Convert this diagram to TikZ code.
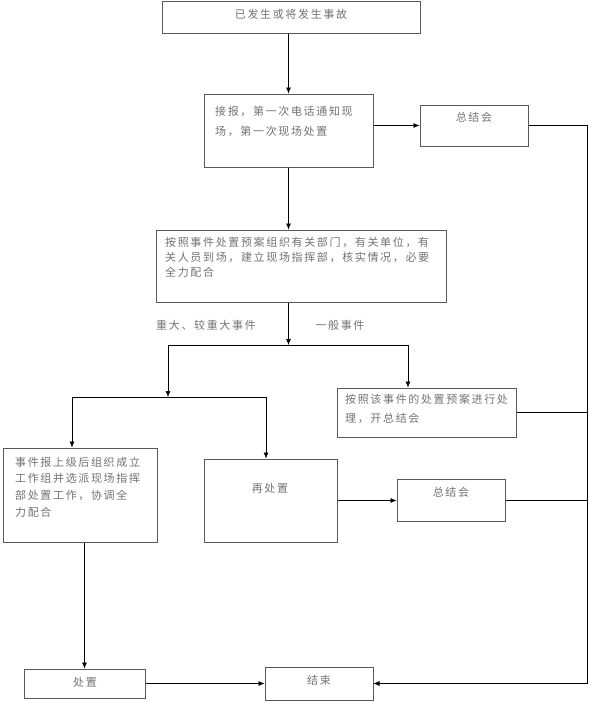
\documentclass[tikz,border=0pt]{standalone}
\usepackage{fontspec}
\newfontfamily\cjk[LetterSpace=15]{Noto Sans CJK SC}
\usetikzlibrary{arrows.meta,calc}
\tikzset{
  box/.style={draw=black!65, line width=1pt, rectangle, inner sep=0pt, fill=white},
  txt/.style={inner sep=0pt, text=black!55, font=\cjk\fontsize{11}{16}\selectfont, align=left},
  conn/.style={draw=black, line width=0.6pt},
  arr/.style={conn, -{Latex[length=6pt,width=5pt]}}
}
\begin{document}
\begin{tikzpicture}[x=1pt,y=-1pt]
\useasboundingbox (0,0) rectangle (589,702);
% boxes
\node[box, minimum width=258pt, minimum height=32pt] (b1) at (291,17) {};
\node[box, minimum width=169pt, minimum height=73pt] (b2) at (288.5,130.5) {};
\node[box, minimum width=108pt, minimum height=41pt] (r1) at (474,125.5) {};
\node[box, minimum width=290pt, minimum height=72pt] (b3) at (301,266) {};
\node[box, minimum width=179pt, minimum height=49pt] (b5) at (426.5,412.5) {};
\node[box, minimum width=154pt, minimum height=94pt] (b6) at (80,495) {};
\node[box, minimum width=133pt, minimum height=83pt] (b7) at (270.5,500.5) {};
\node[box, minimum width=108pt, minimum height=42pt] (b8) at (451,500.5) {};
\node[box, minimum width=121pt, minimum height=29pt] (b9) at (84.5,683.5) {};
\node[box, minimum width=108pt, minimum height=33pt] (b10) at (319,683.5) {};
% texts
\node[txt] (t1) at (291,14) {已发生或将发生事故};
\node[txt, anchor=north west, font=\cjk\fontsize{11}{20}\selectfont] (t2) at (215,106.5) {接报，第一次电话通知现\\场，第一次现场处置};
\node[txt] (tr1) at (474,117) {总结会};
\node[txt, anchor=north west, font=\cjk\fontsize{11}{15.3}\selectfont] (t3) at (165,236.5) {按照事件处置预案组织有关部门，有关单位，有\\关人员到场，建立现场指挥部，核实情况，必要\\全力配合};
\node[txt] (lab1) at (206,325) {重大、较重大事件};
\node[txt] (lab2) at (340,325) {一般事件};
\node[txt, anchor=north west, font=\cjk\fontsize{11}{19}\selectfont] (t5) at (345,393.5) {按照该事件的处置预案进行处\\理，开总结会};
\node[txt, anchor=north west, font=\cjk\fontsize{11}{16.7}\selectfont] (t6) at (15,456.5) {事件报上级后组织成立\\工作组并选派现场指挥\\部处置工作，协调全\\力配合};
\node[txt] (t7) at (270,488) {再处置};
\node[txt] (t8) at (451,492) {总结会};
\node[txt] (t9) at (85,682) {处置};
\node[txt] (t10) at (319,680) {结束};
% helper coordinates
\coordinate (hL) at (168,345);
\coordinate (hR) at (408,345);
\coordinate (gL) at (72,397);
\coordinate (gR) at (266,397);
\coordinate (rT) at (587,125.5);
\coordinate (rB) at (587,683.5);
% connectors
\draw[arr] (b1.south -| b2.north) -- (b2.north);
\draw[arr] (b2.east |- r1.west) -- (r1.west);
\draw[conn] (r1.east) -- (rT) -- (rB);
\draw[arr] (rB) -- (b10.east);
\draw[arr] (b2.south) -- (b2.south |- b3.north);
\draw[arr] (b2.south |- b3.south) -- (b2.south |- hL);
\draw[conn] (hL) -- (hR);
\draw[arr] (hL) -- (hL |- gL);
\draw[conn] (gL) -- (gR);
\draw[arr] (gL) -- (gL |- b6.north);
\draw[arr] (gR) -- (gR |- b7.north);
\draw[arr] (hR) -- (hR |- b5.north);
\draw[conn] (b5.east) -- (b5.east -| rT);
\draw[arr] (b7.east) -- (b8.west);
\draw[conn] (b8.east) -- (b8.east -| rT);
\draw[arr] (b6.south -| b9.north) -- (b9.north);
\draw[arr] (b9.east) -- (b10.west);
\end{tikzpicture}
\end{document}
